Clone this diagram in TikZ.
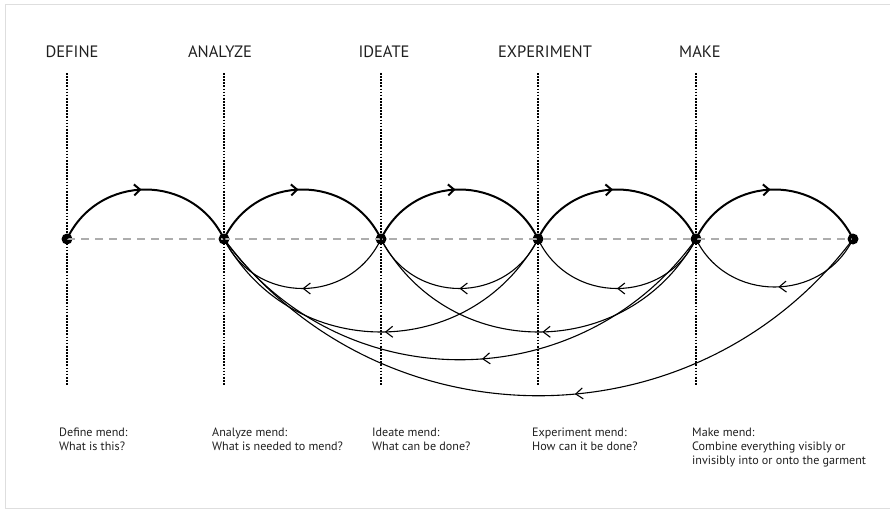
\documentclass[tikz,border=0pt]{standalone}
\usepackage{fontspec}
\setmainfont{PT Sans}
\usetikzlibrary{arrows.meta,decorations.markings}
\tikzset{
  framestyle/.style={draw=black!13, line width=1pt},
  dot/.style={circle, fill=black, inner sep=0pt, minimum size=11pt},
  vline/.style={draw=black, line width=2pt, dash pattern=on 1.7pt off 1.4pt},
  hline/.style={draw=black!32, line width=1.3pt, dash pattern=on 8pt off 6pt},
  fwd/.style={draw=black, line width=2pt,
    decoration={markings, mark=at position #1 with {\arrow{Straight Barb[length=6pt,width=11pt]}}},
    postaction={decorate}},
  fwd/.default=0.48,
  back/.style={draw=black, line width=1.1pt,
    decoration={markings, mark=at position #1 with {\arrow{Straight Barb[length=7pt,width=11pt]}}},
    postaction={decorate}},
  back/.default=0.5,
  toplabel/.style={inner sep=0pt, text=black!88, font=\fontsize{16.5}{18}\selectfont},
  desc/.style={inner sep=0pt, anchor=north west, align=left, text=black!88,
    font=\fontsize{12.1}{14}\selectfont}
}
\begin{document}
\begin{tikzpicture}[x=1pt,y=-1pt]
\useasboundingbox (0,0) rectangle (890,511);
% frame
\draw[framestyle] (893,4.5) -- (5,4.5) -- (5,508) -- (893,508);

% dotted verticals
\foreach \i/\x in {1/67,2/224,3/381,4/538,5/696}{
  \coordinate (t\i) at (\x,73);
  \coordinate (b\i) at (\x,386);
}
\foreach \i in {1,...,5}{\draw[vline] (t\i) -- (b\i);}

% stage points
\node[dot] (n1) at (67,239) {};
\node[dot] (n2) at (224,239) {};
\node[dot] (n3) at (381,239) {};
\node[dot] (n4) at (538,239) {};
\node[dot] (n5) at (696,239) {};
\node[dot] (n6) at (853,239) {};

\draw[hline] (n1.center) -- (n6.center);

% forward arcs
\draw[fwd] (n1.center) .. controls +(31.5,-66) and +(-31.5,-66) .. (n2.center);
\draw[fwd] (n2.center) .. controls +(31.5,-66) and +(-31.5,-66) .. (n3.center);
\draw[fwd] (n3.center) .. controls +(31.5,-66) and +(-31.5,-66) .. (n4.center);
\draw[fwd] (n4.center) .. controls +(31.5,-66) and +(-31.5,-66) .. (n5.center);
\draw[fwd] (n5.center) .. controls +(31.5,-66) and +(-31.5,-66) .. (n6.center);

% return arcs, one step
\draw[back] (n3.center) .. controls +(-31.5,66) and +(31.5,66) .. (n2.center);
\draw[back] (n4.center) .. controls +(-31.5,66) and +(31.5,66) .. (n3.center);
\draw[back] (n5.center) .. controls +(-31.5,66) and +(31.5,66) .. (n4.center);
\draw[back=0.48] (n6.center) .. controls +(-31.5,64) and +(31.5,64) .. (n5.center);
% return arcs, two steps
\draw[back=0.49] (n4.center) .. controls +(-68,124) and +(68,124) .. (n2.center);
\draw[back=0.49] (n5.center) .. controls +(-68,124) and +(68,124) .. (n3.center);
% return arcs, longer
\draw[back=0.46] (n5.center) .. controls +(-116,161) and +(116,161) .. (n2.center);
\draw[back=0.45] (n6.center) .. controls +(-157,209) and +(157,209) .. (n2.center);

% top labels
\node[toplabel] (lDef) at (72,52) {DEFINE};
\node[toplabel] (lAna) at (220,52) {ANALYZE};
\node[toplabel] (lIde) at (384,52) {IDEATE};
\node[toplabel] (lExp) at (545,52) {EXPERIMENT};
\node[toplabel] (lMak) at (700,52) {MAKE};

% descriptions
\node[desc] (dDef) at (59,428) {Define mend:\\What is this?};
\node[desc] (dAna) at (212,428) {Analyze mend:\\What is needed to mend?};
\node[desc] (dIde) at (372,428) {Ideate mend:\\What can be done?};
\node[desc] (dExp) at (532,428) {Experiment mend:\\How can it be done?};
\node[desc] (dMak) at (692,428) {Make mend:\\Combine everything visibly or\\invisibly into or onto the garment};
\end{tikzpicture}
\end{document}
